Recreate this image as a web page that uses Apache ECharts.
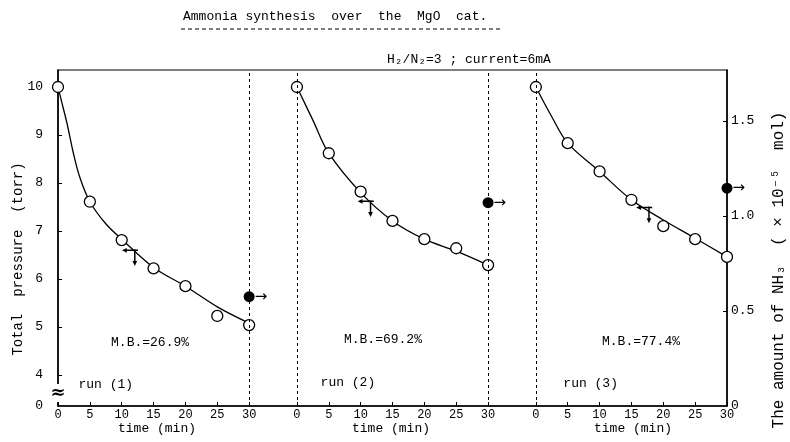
<!DOCTYPE html>
<html><head><meta charset="utf-8">
<script src="https://cdn.jsdelivr.net/npm/echarts@6/dist/echarts.min.js"></script>
<style>html,body{margin:0;padding:0;background:#fff}#c{width:790px;height:442px}</style>
</head><body><div id="c"></div>
<script>
// ---- data ----
const times = [0, 5, 10, 15, 20, 25, 30];
const run1Pressure = [10.0, 7.61, 6.81, 6.22, 5.85, 5.23, 5.04];
const run2Pressure = [10.0, 8.62, 7.82, 7.21, 6.83, 6.64, 6.29];
const run3Pressure = [10.0, 8.83, 8.24, 7.65, 7.10, 6.83, 6.46];
const nh3Time = 30;
const nh3Amount = [0.575, 1.07, 1.146];
// hand-drawn fitted curves
const fitTimes1 = [0, 0.5, 1.4, 2.4, 3.4, 5, 7.5, 10, 15, 20, 25, 30];
const fitRun1 = [10.0, 9.73, 9.25, 8.63, 8.13, 7.61, 7.15, 6.83, 6.24, 5.85, 5.42, 5.08];
const fitTimes = [0, 2.5, 5, 10, 15, 20, 25, 30];
const fitRun2 = [10.0, 9.31, 8.62, 7.80, 7.21, 6.83, 6.58, 6.29];
const fitRun3 = [10.0, 9.38, 8.83, 8.24, 7.65, 7.23, 6.85, 6.46];
const runLabels = ['run (1)', 'run (2)', 'run (3)'];
const mbLabels = ['M.B.=26.9%', 'M.B.=69.2%', 'M.B.=77.4%'];
const leftTicks = [4, 5, 6, 7, 8, 9, 10];
const rightTicks = [0, 0.5, 1.0, 1.5];
const timeTicks = [0, 5, 10, 15, 20, 25, 30];

// ---- layout constants ----
const PANEL_SHIFT = 37.5;       // x-offset of each run panel on the shared axis
const X_MAX = 105;
const Y_MIN = 3.354, Y_MAX = 10.354;   // broken pressure axis (bottom labelled 0)
const R_MAX = 1.768;
const arrowPos = [[11.3, 6.46], [10.8, 7.48], [17.0, 7.35]];
const mbPos = [[14.45, 4.67], [13.5, 4.73], [16.5, 4.69]];
const runPos = [[7.5, 3.81], [8.0, 3.85], [8.6, 3.83]];
const ARROW_PATH = 'path://M3 1.3L15 1.3L15 2.7L3 2.7ZM0 2L4.5 -0.2L4.5 4.2ZM11.3 1L12.7 1L12.7 13L11.3 13ZM9.8 12L14.2 12L12 16.5Z';

const MONO = '"Liberation Mono","DejaVu Sans Mono",monospace';
const pressures = [run1Pressure, run2Pressure, run3Pressure];
const fits = [[fitTimes1, fitRun1], [fitTimes, fitRun2], [fitTimes, fitRun3]];
const shift = (k, t) => t + k * PANEL_SHIFT;

const xTickVals = [];
[0, 1, 2].forEach(k => timeTicks.forEach(t => xTickVals.push(shift(k, t))));

const series = [];
[0, 1, 2].forEach(k => {
  const [ft, fv] = fits[k];
  series.push({
    type: 'line', name: 'fit' + (k + 1), smooth: 0.35, showSymbol: false, silent: true,
    data: ft.map((t, i) => [shift(k, t), fv[i]]),
    lineStyle: { color: '#000', width: 1.3 }, z: 2,
    markLine: k === 0 ? {
      silent: true, symbol: 'none', label: { show: false },
      lineStyle: { color: '#000', width: 1, type: [3, 3] },
      data: [{ xAxis: shift(0, 30) }, { xAxis: shift(1, 0) }, { xAxis: shift(1, 30) }, { xAxis: shift(2, 0) }]
    } : undefined,
    markPoint: {
      silent: true, symbol: 'circle', symbolSize: 0,
      label: { show: true, position: 'inside', color: '#000', fontFamily: MONO, fontSize: 13,
        formatter: p => p.name },
      data: [
        { name: mbLabels[k], coord: [shift(k, mbPos[k][0]), mbPos[k][1]] },
        { name: runLabels[k], coord: [shift(k, runPos[k][0]), runPos[k][1]] }
      ]
    }
  });
  series.push({
    type: 'scatter', name: 'run ' + (k + 1), symbol: 'circle', symbolSize: 11,
    data: times.map((t, i) => [shift(k, t), pressures[k][i]]),
    itemStyle: { color: '#fff', borderColor: '#000', borderWidth: 1.3, opacity: 1 }, z: 4
  });
});
series.push({
  type: 'scatter', name: 'NH3', yAxisIndex: 1, symbol: 'circle', symbolSize: 11,
  data: nh3Amount.map((v, k) => [shift(k, nh3Time), v]),
  itemStyle: { color: '#000', opacity: 1 }, z: 5,
  label: { show: true, position: 'right', distance: 0, formatter: '→', color: '#000',
    fontSize: 15, fontFamily: '"DejaVu Sans"' }
});
series.push({
  type: 'scatter', name: 'axis-arrows', symbol: ARROW_PATH, symbolSize: [16, 18], silent: true,
  data: arrowPos.map((p, k) => [shift(k, p[0]), p[1]]),
  itemStyle: { color: '#000', opacity: 1 }, z: 5
});

const chart = echarts.init(document.getElementById('c'), null, { renderer: 'canvas' });
chart.setOption({
  backgroundColor: '#fff',
  animation: false,
  grid: { left: 58, right: 63, top: 70, bottom: 36, outerBoundsMode: 'none', containLabel: false,
    show: true, borderColor: '#000', borderWidth: 1.2 },
  xAxis: {
    type: 'value', min: 0, max: X_MAX,
    axisLine: { lineStyle: { color: '#000', width: 1.5 } },
    axisTick: { customValues: xTickVals, inside: true, length: 4, lineStyle: { color: '#000' } },
    axisLabel: { customValues: xTickVals, margin: 3, color: '#000', fontFamily: MONO, fontSize: 12,
      formatter: v => String(Math.round(v - Math.floor((v + 1) / PANEL_SHIFT) * PANEL_SHIFT)) },
    splitLine: { show: false }
  },
  yAxis: [{
    type: 'value', min: Y_MIN, max: Y_MAX, position: 'left',
    name: 'Total  pressure  (torr)', nameLocation: 'middle', nameGap: 33, nameMoveOverlap: false,
    nameTextStyle: { color: '#000', fontFamily: MONO, fontSize: 14, padding: [0, 42, 0, 0] },
    axisLine: { show: true, lineStyle: { color: '#000', width: 1.5 } },
    axisTick: { show: true, customValues: leftTicks, inside: true, length: 4, lineStyle: { color: '#000' } },
    axisLabel: { customValues: [Y_MIN].concat(leftTicks), margin: 15, color: '#000', fontFamily: MONO, fontSize: 13,
      formatter: v => (v < leftTicks[0] ? '0' : String(v)) },
    splitLine: { show: false }
  }, {
    type: 'value', min: 0, max: R_MAX, position: 'right',
    name: 'The amount of NH₃  ( × 10⁻⁵  mol)', nameLocation: 'middle', nameGap: 44, nameMoveOverlap: false,
    nameTextStyle: { color: '#000', fontFamily: MONO, fontSize: 16, padding: [0, 64, 0, 0] },
    axisLine: { show: true, lineStyle: { color: '#000', width: 1.5 } },
    axisTick: { show: true, customValues: rightTicks.slice(1), inside: true, length: 4, lineStyle: { color: '#000' } },
    axisLabel: { customValues: rightTicks, margin: 4, color: '#000', fontFamily: MONO, fontSize: 13,
      formatter: v => (v === 0 ? '0' : v.toFixed(1)) },
    splitLine: { show: false }
  }],
  graphic: [
    { type: 'text', left: 183, top: 10, style: { text: 'Ammonia synthesis  over  the  MgO  cat.', font: '13px ' + MONO, fill: '#000' } },
    { type: 'line', shape: { x1: 181, y1: 29, x2: 503, y2: 29 }, style: { stroke: '#000', lineWidth: 1, lineDash: [4, 3] } },
    { type: 'text', left: 387, top: 53, style: { text: 'H₂/N₂=3 ; current=6mA', font: '13px ' + MONO, fill: '#000' } },
    { type: 'text', x: 157, y: 429, style: { text: 'time (min)', font: '13px ' + MONO, fill: '#000', align: 'center', verticalAlign: 'middle' } },
    { type: 'text', x: 391, y: 429, style: { text: 'time (min)', font: '13px ' + MONO, fill: '#000', align: 'center', verticalAlign: 'middle' } },
    { type: 'text', x: 633, y: 429, style: { text: 'time (min)', font: '13px ' + MONO, fill: '#000', align: 'center', verticalAlign: 'middle' } },
    { type: 'text', x: 58, y: 393, z: 10, style: { text: '≈', font: 'bold 18px "DejaVu Sans"', fill: '#000', backgroundColor: '#fff', align: 'center', verticalAlign: 'middle' } }
  ],
  series: series
});
</script></body></html>
